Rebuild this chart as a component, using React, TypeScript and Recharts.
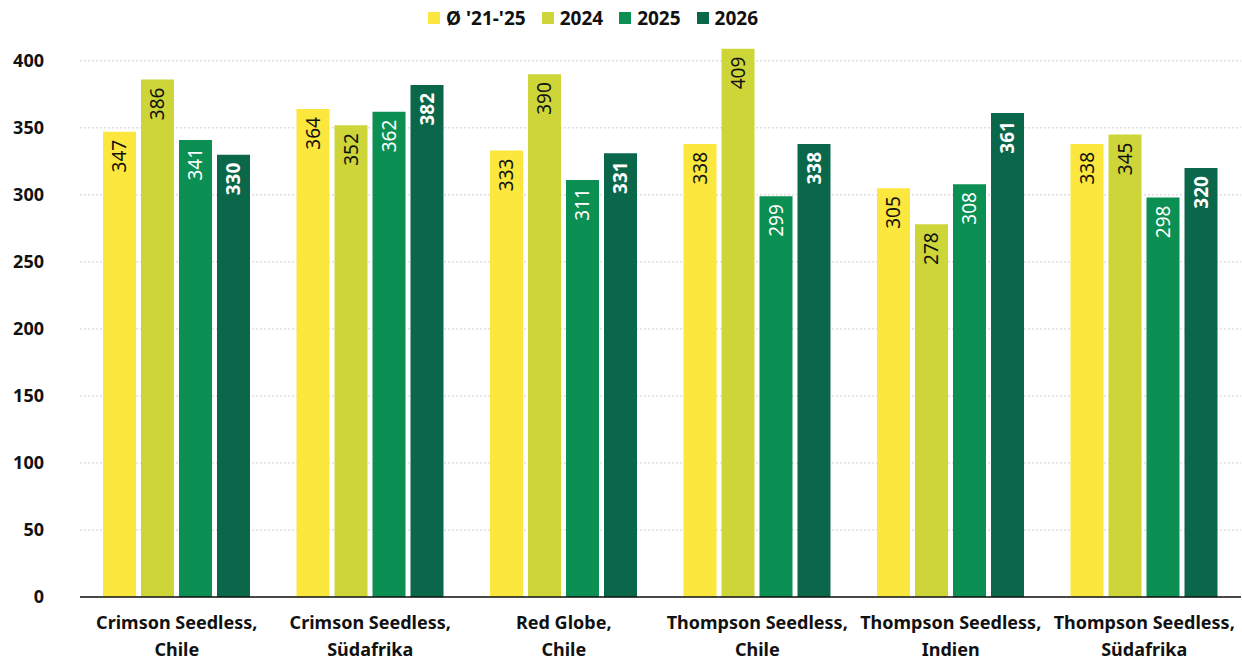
import React from 'react';
import { BarChart, Bar, XAxis, YAxis, CartesianGrid, Legend, LabelList } from 'recharts';

const categories = [
  'Crimson Seedless, Chile',
  'Crimson Seedless, Südafrika',
  'Red Globe, Chile',
  'Thompson Seedless, Chile',
  'Thompson Seedless, Indien',
  'Thompson Seedless, Südafrika',
];
const avg2125 = [347, 364, 333, 338, 305, 338];
const y2024 = [386, 352, 390, 409, 278, 345];
const y2025 = [341, 362, 311, 299, 308, 298];
const y2026 = [330, 382, 331, 338, 361, 320];
const yTicks = [0, 50, 100, 150, 200, 250, 300, 350, 400];
const yMax = 420;

const series = [
  { key: 'avg', name: "Ø '21-'25", color: '#fbe73d', label: '#111', bold: false },
  { key: 'y2024', name: '2024', color: '#cdd539', label: '#111', bold: false },
  { key: 'y2025', name: '2025', color: '#0b8f52', label: '#fff', bold: false },
  { key: 'y2026', name: '2026', color: '#0a674a', label: '#fff', bold: true },
];

const data = categories.map((name, i) => ({
  name,
  avg: avg2125[i],
  y2024: y2024[i],
  y2025: y2025[i],
  y2026: y2026[i],
}));

const FONT = '"Noto Sans", sans-serif';

const XTick = (props: any) => {
  const { x, y, payload } = props;
  const parts = String(payload.value).split(', ');
  return (
    <g transform={`translate(${x},${y})`}>
      <text textAnchor="middle" fontFamily={FONT} fontWeight={700} fontSize={18} fill="#111">
        <tspan x={0} dy={24}>{parts[0] + ','}</tspan>
        <tspan x={0} dy={27}>{parts[1]}</tspan>
      </text>
    </g>
  );
};

const makeLabel = (color: string, bold: boolean) => (props: any) => {
  const { x, y, width, value } = props;
  const cx = x + width / 2;
  const ty = y + 8;
  return (
    <text
      x={cx}
      y={ty}
      transform={`rotate(-90, ${cx}, ${ty})`}
      textAnchor="end"
      dominantBaseline="central"
      fontFamily={FONT}
      fontSize={19}
      fontWeight={bold ? 700 : 400}
      fill={color}
    >
      {value}
    </text>
  );
};

// grid only on the labelled ticks (no line at the domain top)
const gridRows = (args: any) => {
  const scale = args?.yAxis?.scale;
  if (typeof scale === 'function') return yTicks.map((t) => scale(t));
  const { offset } = args;
  return yTicks.map((t) => offset.top + offset.height * (1 - t / yMax));
};

const renderLegend = () => (
  <div style={{ display: 'flex', alignItems: 'center', marginLeft: 428, fontFamily: FONT, fontWeight: 700, fontSize: 19, color: '#111' }}>
    {series.map((s) => (
      <div key={s.key} style={{ display: 'flex', alignItems: 'center', marginRight: 16 }}>
        <span style={{ width: 12, height: 12, background: s.color, display: 'inline-block', marginRight: 6 }} />
        <span>{s.name}</span>
      </div>
    ))}
  </div>
);

export default function App() {
  return (
    <div style={{ position: 'absolute', left: 0, top: 0, width: 1242, height: 664, background: '#fff' }}>
      <BarChart
        width={1242}
        height={664}
        data={data}
        margin={{ top: 8, right: 1, left: 0, bottom: 0 }}
        barCategoryGap={24}
        barGap={5}
      >
        <CartesianGrid
          vertical={false}
          stroke="#cfcfcf"
          strokeDasharray="2 2"
          horizontalCoordinatesGenerator={gridRows}
        />
        <XAxis
          dataKey="name"
          height={67}
          tick={<XTick />}
          tickLine={false}
          axisLine={{ stroke: '#111', strokeWidth: 1.5 }}
          interval={0}
        />
        <YAxis
          width={80}
          type="number"
          domain={[0, yMax]}
          allowDataOverflow={true}
          ticks={yTicks}
          axisLine={false}
          tickLine={false}
          tickSize={0}
          tickMargin={36}
          tick={{ fontFamily: FONT, fontWeight: 700, fontSize: 18, fill: '#111' }}
        />
        <Legend verticalAlign="top" wrapperStyle={{ top: 5, left: 0, width: 1242 }} content={renderLegend} />
        {series.map((s) => (
          <Bar key={s.key} dataKey={s.key} name={s.name} fill={s.color} barSize={33} isAnimationActive={false}>
            <LabelList dataKey={s.key} content={makeLabel(s.label, s.bold)} />
          </Bar>
        ))}
      </BarChart>
    </div>
  );
}
